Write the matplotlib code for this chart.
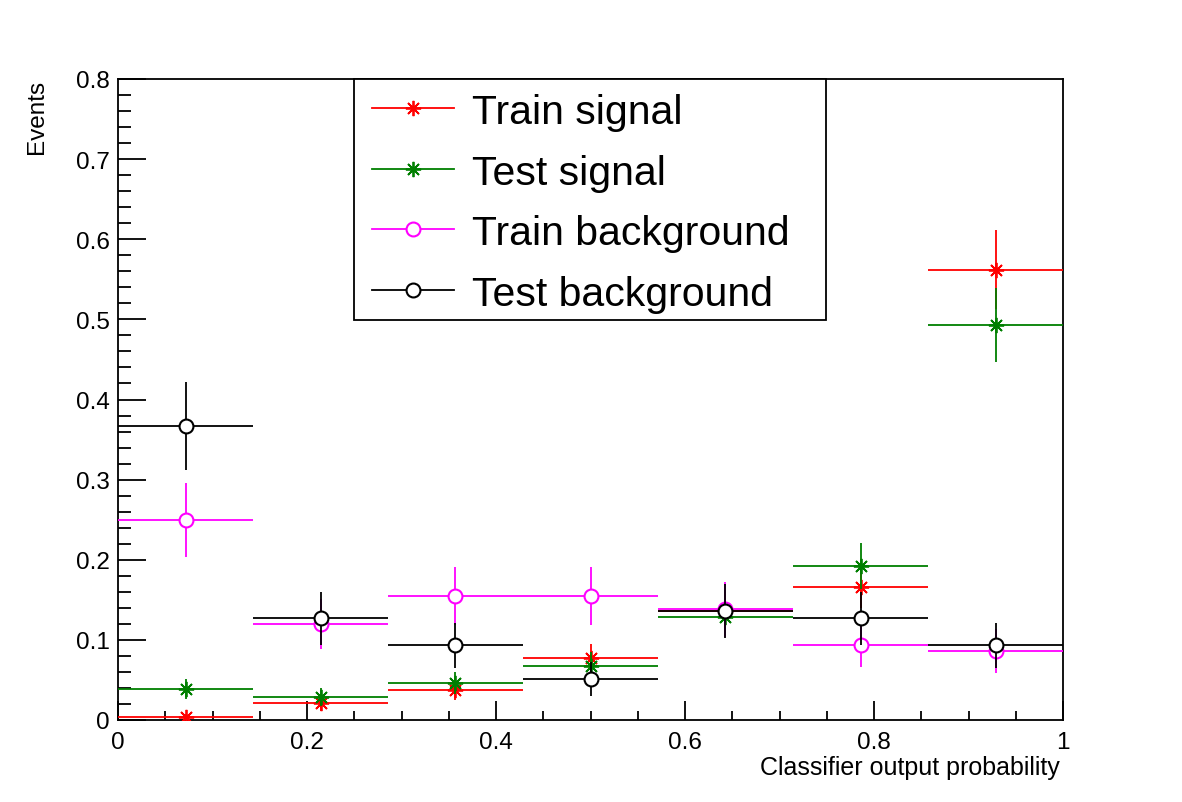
import numpy as np
import matplotlib
matplotlib.use("Agg")
import matplotlib.pyplot as plt
from matplotlib.lines import Line2D
from matplotlib.patches import Rectangle
from matplotlib.ticker import MultipleLocator

plt.rcParams['font.family'] = ['Liberation Sans', 'DejaVu Sans']

# ---- data ----
bin_edges = [0, 1/7, 2/7, 3/7, 4/7, 5/7, 6/7, 1.0]
labels = ["Train signal", "Test signal", "Train background", "Test background"]

train_signal = [0.004, 0.021, 0.038, 0.077, 0.136, 0.166, 0.562]
train_signal_err = [0.004, 0.0095, 0.0127, 0.018, 0.024, 0.0266, 0.049]
test_signal = [0.0387, 0.029, 0.046, 0.068, 0.128, 0.1925, 0.493]
test_signal_err = [0.013, 0.011, 0.014, 0.017, 0.023, 0.0287, 0.046]
train_bkg = [0.250, 0.120, 0.155, 0.155, 0.138, 0.094, 0.086]
train_bkg_err = [0.046, 0.031, 0.036, 0.036, 0.034, 0.028, 0.027]
test_bkg = [0.367, 0.127, 0.093, 0.051, 0.136, 0.127, 0.093]
test_bkg_err = [0.055, 0.033, 0.028, 0.021, 0.034, 0.033, 0.028]

x_ticks = [0, 0.2, 0.4, 0.6, 0.8, 1]
x_tick_labels = ["0", "0.2", "0.4", "0.6", "0.8", "1"]
y_ticks = [0, 0.1, 0.2, 0.3, 0.4, 0.5, 0.6, 0.7, 0.8]
y_tick_labels = ["0", "0.1", "0.2", "0.3", "0.4", "0.5", "0.6", "0.7", "0.8"]

series = [train_signal, test_signal, train_bkg, test_bkg]
errors = [train_signal_err, test_signal_err, train_bkg_err, test_bkg_err]

# ---- style ----
colors = ["#ff0000", "#007f00", "#ff00ff", "#000000"]
STAR = (8, 2, 0)
markers = [STAR, STAR, "o", "o"]
W, H = 1182, 803
LW = 1.3

fig = plt.figure(figsize=(W / 100, H / 100), dpi=100)
ax = fig.add_axes([118 / W, (H - 721) / H, 945 / W, 641 / H])

edges = np.array(bin_edges)
centers = (edges[:-1] + edges[1:]) / 2
half = (edges[1:] - edges[:-1]) / 2

for i, (vals, errs) in enumerate(zip(series, errors)):
    z = 3 + i
    ax.errorbar(centers, vals, xerr=half, yerr=errs, fmt='none', ecolor=colors[i],
                elinewidth=LW, capsize=0, zorder=z)
    if markers[i] == "o":
        ax.plot(centers, vals, ls='none', marker='o', ms=10, mfc='white',
                mec=colors[i], mew=1.5, zorder=z + 0.5)
    else:
        ax.plot(centers, vals, ls='none', marker=STAR, ms=11, mfc=colors[i],
                mec=colors[i], mew=1.3, zorder=z + 0.5)

ax.set_xlim(0, 1)
ax.set_ylim(0, 0.8)
ax.set_xticks(x_ticks)
ax.set_xticklabels(x_tick_labels)
ax.set_yticks(y_ticks)
ax.set_yticklabels(y_tick_labels)
ax.xaxis.set_minor_locator(MultipleLocator(0.05))
ax.yaxis.set_minor_locator(MultipleLocator(0.02))
ax.tick_params(axis='both', which='both', direction='in', top=False, right=False,
               width=1.3, labelsize=17.5)
ax.tick_params(axis='x', which='major', length=13.5, pad=8)
ax.tick_params(axis='x', which='minor', length=6.8)
ax.tick_params(axis='y', which='major', length=20, pad=6)
ax.tick_params(axis='y', which='minor', length=9.5)
for s in ax.spines.values():
    s.set_linewidth(1.3)

fig.text(37 / W, 1 - 80 / H, "Events", rotation=90, ha='center', va='top', fontsize=17.5)
fig.text(1060 / W, 1 - 768 / H, "Classifier output probability", ha='right',
         va='center', fontsize=18)

# ---- legend ----
def fx(px):
    return px / W

def fy(py):
    return 1 - py / H

fig.add_artist(Rectangle((fx(354), fy(321)), fx(826) - fx(354), fy(80) - fy(321),
                         transform=fig.transFigure, fill=True, facecolor='white',
                         edgecolor='black', lw=1.3, zorder=10))
row_y = [109, 170, 230, 291]
for i, lab in enumerate(labels):
    yy = fy(row_y[i])
    fig.add_artist(Line2D([fx(372), fx(454)], [yy, yy], color=colors[i], lw=LW,
                          transform=fig.transFigure, zorder=11))
    if markers[i] == "o":
        fig.add_artist(Line2D([fx(413)], [yy], ls='none', marker='o', ms=10, mfc='white',
                              mec=colors[i], mew=1.5, transform=fig.transFigure, zorder=12))
    else:
        fig.add_artist(Line2D([fx(413)], [yy], ls='none', marker=STAR, ms=11,
                              mec=colors[i], mew=1.3, transform=fig.transFigure, zorder=12))
    fig.text(fx(472), yy, lab, ha='left', va='center_baseline', fontsize=29.5, zorder=12)

fig.savefig("out.png", dpi=100)
